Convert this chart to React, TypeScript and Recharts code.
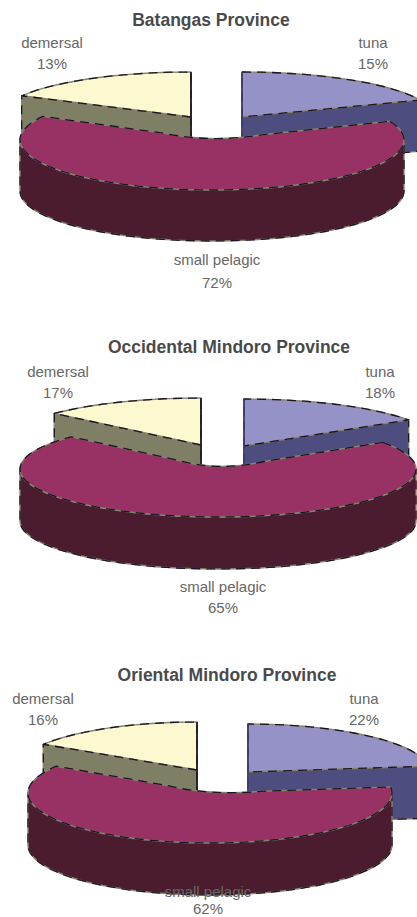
import { Pie, PieChart } from "recharts"

const species = ["demersal", "tuna", "small pelagic"]
const batangasShares = [13, 15, 72]
const occidentalShares = [17, 18, 65]
const orientalShares = [16, 22, 62]

const topColors = ["#FCF8D0", "#9492C6", "#983264"]
const wallColors = ["#7F7F66", "#4D4D80", "#4B1C30"]

const WIDTH = 417
const FONT = "'Liberation Sans', Arial, sans-serif"

type Frame = {
  title: string
  titleX: number
  titleY: number
  shares: number[]
  top: number
  height: number
  cx: number
  cy: number
  rx: number
  ry: number
  backRy: number
  depth: number
  warpLeft: number
  warpRight: number
  shifts: [number, number][]
  labels: { x: number; y: number; y2: number }[]
}

const frames: Frame[] = [
  {
    title: "Batangas Province",
    titleX: 211,
    titleY: 20,
    shares: batangasShares,
    top: 0,
    height: 300,
    cx: 212,
    cy: 140,
    rx: 192,
    ry: 50,
    backRy: 45,
    depth: 51,
    warpLeft: 0.57,
    warpRight: 0.556,
    shifts: [[-21, -23], [30, -23], [0, 0]],
    labels: [
      { x: 52, y: 42, y2: 63 },
      { x: 373, y: 42, y2: 63 },
      { x: 217, y: 259, y2: 282 },
    ],
  },
  {
    title: "Occidental Mindoro Province",
    titleX: 229,
    titleY: 347,
    shares: occidentalShares,
    top: 330,
    height: 290,
    cx: 218,
    cy: 469,
    rx: 198,
    ry: 48,
    backRy: 47,
    depth: 52,
    warpLeft: 1.65,
    warpRight: 1.42,
    shifts: [[-17, -24], [26, -23], [0, 0]],
    labels: [
      { x: 58, y: 371, y2: 392 },
      { x: 380, y: 371, y2: 392 },
      { x: 223, y: 586, y2: 607 },
    ],
  },
  {
    title: "Oriental Mindoro Province",
    titleX: 227,
    titleY: 675,
    shares: orientalShares,
    top: 660,
    height: 257,
    cx: 210,
    cy: 793,
    rx: 182,
    ry: 50,
    backRy: 48,
    depth: 52,
    warpLeft: 1,
    warpRight: 0.64,
    shifts: [[-13, -23], [38, -21], [0, 0]],
    labels: [
      { x: 43, y: 698, y2: 719 },
      { x: 364, y: 698, y2: 719 },
      { x: 208, y: 891, y2: 908 },
    ],
  },
]

const rad = (d: number) => (d * Math.PI) / 180

// the scanned pies are not true ellipses, so angles get pulled along the rim a bit
function warp(deg: number, left: number, right: number) {
  const t = rad(deg)
  const c = Math.cos(t) < 0 ? left : right
  let p = Math.atan2(Math.sin(t) * c, Math.cos(t))
  while (p - t > Math.PI) p -= Math.PI * 2
  while (p - t < -Math.PI) p += Math.PI * 2
  return p
}

function pieShape(frame: Frame) {
  return (props: any) => {
    const { cx, cy, startAngle, endAngle, index } = props
    const [dx, dy] = frame.shifts[index]
    const ox = cx + dx
    const oy = cy + dy
    const big = startAngle - endAngle > 180
    const ry = big ? frame.ry : frame.backRy
    const pt = (p: number, drop = 0): [number, number] => [
      ox + frame.rx * Math.cos(p),
      oy - ry * Math.sin(p) + drop,
    ]
    const arc = (a: number, b: number, drop = 0) => {
      const out: [number, number][] = []
      const n = Math.max(6, Math.ceil((Math.abs(b - a) * 180) / Math.PI / 3))
      for (let i = 0; i <= n; i++) out.push(pt(a + ((b - a) * i) / n, drop))
      return out
    }
    const line = (pts: [number, number][]) =>
      pts.map((q) => `${q[0].toFixed(1)},${q[1].toFixed(1)}`).join(" L")

    const a = warp(startAngle, frame.warpLeft, frame.warpRight)
    const b = warp(endAngle, frame.warpLeft, frame.warpRight)
    let wall = ""
    let face = ""
    let spine = ""

    if (big) {
      // front wall runs the lower half of the ellipse
      wall = `M${line(arc(0, -Math.PI))} L${line(arc(-Math.PI, 0, frame.depth))} Z`
      const [ax, ay] = pt(a)
      const [bx, by] = pt(b)
      const near = 0.28
      face =
        `M${line(arc(a, b))} ` +
        `L${(ox + (bx - ox) * near).toFixed(1)},${(oy + (by - oy) * near).toFixed(1)} ` +
        `Q${ox},${oy + 3} ${(ox + (ax - ox) * near).toFixed(1)},${(oy + (ay - oy) * near).toFixed(1)} Z`
    } else {
      const mid = (startAngle + endAngle) / 2
      const cut = Math.cos(rad(mid)) > 0 ? b : a
      const [rimX, rimY] = pt(cut)
      wall =
        `M${ox},${oy} L${rimX.toFixed(1)},${rimY.toFixed(1)} ` +
        `L${rimX.toFixed(1)},${(rimY + frame.depth).toFixed(1)} L${ox},${oy + frame.depth} Z`
      face = `M${ox},${oy} L${line(arc(a, b))} Z`
      spine = `M${ox},${oy + frame.depth} L${ox},${oy - ry}`
    }

    const layers = (d: string, fill: string) => (
      <>
        <path d={d} fill={fill} stroke="#85836F" strokeWidth={1.4} strokeLinejoin="round" />
        <path
          d={d}
          fill="none"
          stroke="#1E1420"
          strokeWidth={1.3}
          strokeDasharray="9 6"
          strokeLinejoin="round"
        />
      </>
    )

    return (
      <g>
        {layers(wall, wallColors[index])}
        {layers(face, topColors[index])}
        {spine && (
          <path d={spine} fill="none" stroke={index === 1 ? "#3E3E6E" : "#221C22"} strokeWidth={1.8} />
        )}
      </g>
    )
  }
}

function sliceLabel(frame: Frame) {
  return (props: any) => {
    const { index, payload } = props
    const at = frame.labels[index]
    const style = { fontFamily: FONT, fontSize: 15, fill: "#666666" }
    return (
      <g key={index}>
        <text x={at.x} y={at.y - frame.top} textAnchor="middle" dominantBaseline="central" style={style}>
          {payload.name}
        </text>
        <text x={at.x} y={at.y2 - frame.top} textAnchor="middle" dominantBaseline="central" style={style}>
          {payload.share}%
        </text>
      </g>
    )
  }
}

function ProvincePie({ frame }: { frame: Frame }) {
  const data = species.map((name, i) => ({ name, share: frame.shares[i] }))
  // demersal ends at twelve o'clock, tuna starts there, pelagic is drawn last so it sits in front
  const start = 90 + frame.shares[0] * 3.6
  return (
    <div style={{ position: "absolute", left: 0, top: frame.top }}>
      <PieChart width={WIDTH} height={frame.height} margin={{ top: 0, right: 0, bottom: 0, left: 0 }}>
        <Pie
          data={data}
          dataKey="share"
          nameKey="name"
          cx={frame.cx}
          cy={frame.cy - frame.top}
          outerRadius={frame.rx}
          startAngle={start}
          endAngle={start - 360}
          paddingAngle={0}
          isAnimationActive={false}
          labelLine={false}
          label={sliceLabel(frame)}
          shape={pieShape(frame)}
        />
      </PieChart>
      <div
        style={{
          position: "absolute",
          left: frame.titleX - 150,
          top: frame.titleY - frame.top - 10,
          width: 300,
          height: 20,
          lineHeight: "20px",
          textAlign: "center",
          fontFamily: FONT,
          fontWeight: 700,
          fontSize: 17.5,
          color: "#4A4A4A",
        }}
      >
        {frame.title}
      </div>
    </div>
  )
}

export default function App() {
  return (
    <div
      style={{
        position: "absolute",
        left: 0,
        top: 0,
        width: WIDTH,
        height: 917,
        overflow: "hidden",
        background: "#fff",
      }}
    >
      {frames.map((f) => (
        <ProvincePie key={f.title} frame={f} />
      ))}
    </div>
  )
}
